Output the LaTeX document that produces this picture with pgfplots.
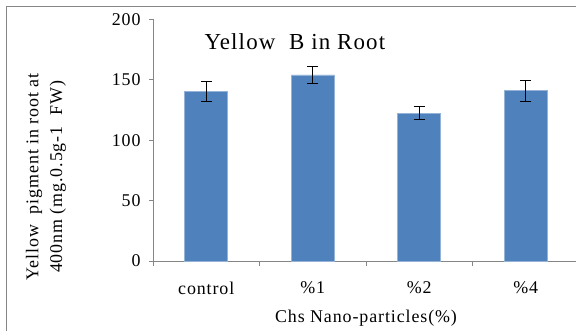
\documentclass[border=0pt]{standalone}
\usepackage{fontspec}
\setmainfont[LetterSpace=5]{Liberation Serif}
\usepackage{pgfplots}
\pgfplotsset{compat=1.18}
\definecolor{barblue}{HTML}{4F81BD}
\definecolor{axisgray}{RGB}{134,134,134}
\begin{document}
\begin{tikzpicture}
\useasboundingbox (0,0) rectangle (576bp,331bp);
\clip (0,0) rectangle (576bp,331bp);
\draw[axisgray, line width=1bp] (6bp,-5bp) -- (6bp,324bp) -- (590bp,324bp);
\begin{axis}[
  at={(153bp,70bp)}, anchor=south west,
  scale only axis, width=426bp, height=241.6bp,
  xmin=-0.5, xmax=3.5, ymin=0, ymax=200,
  axis x line*=bottom, axis y line*=left,
  axis line style={axisgray, line width=1bp},
  ytick={0,50,...,200},
  xtick={0,1,2,3}, xticklabels={control,\%1,\%2,\%4},
  minor xtick={-0.5,0.5,1.5,2.5,3.5},
  tick align=outside,
  major tick length=4bp, minor tick length=5bp,
  major x tick style={draw=none},
  tick style={axisgray, line width=1bp},
  /pgf/number format/assume math mode=true,
  tick label style={font=\fontsize{18}{18}\selectfont, black},
  yticklabel style={xshift=-5bp},
  xticklabel style={anchor=center, yshift=-23bp},
  xlabel={Chs Nano-particles(\%)},
  xlabel style={font=\fontsize{18}{18}\selectfont, at={(axis description cs:0.5,0)}, anchor=center, yshift=-57bp},
  ybar, bar width=43bp,
  clip=false,
]
\addplot[fill=barblue, draw=barblue!60!white, line width=0.6bp,
  error bars/.cd, y dir=both, y explicit,
  error bar style={black, line width=1bp},
  error mark options={rotate=90, mark size=5.5bp, black, line width=1bp}]
  coordinates {(0,140.5) +- (0,8.5) (1,154) +- (0,7.3) (2,122.5) +- (0,5) (3,141) +- (0,8.6)};
\node[font=\fontsize{23}{23}\selectfont] at (rel axis cs:0.333,0.906) {Yellow\ \ B in Root};
\end{axis}
\node[rotate=90, align=center, font=\fontsize{18}{24}\selectfont] at (46bp,154bp) {Yellow\ \ pigment in root at\\400nm (mg.0.5g-1\ \ FW)};
\end{tikzpicture}
\end{document}
